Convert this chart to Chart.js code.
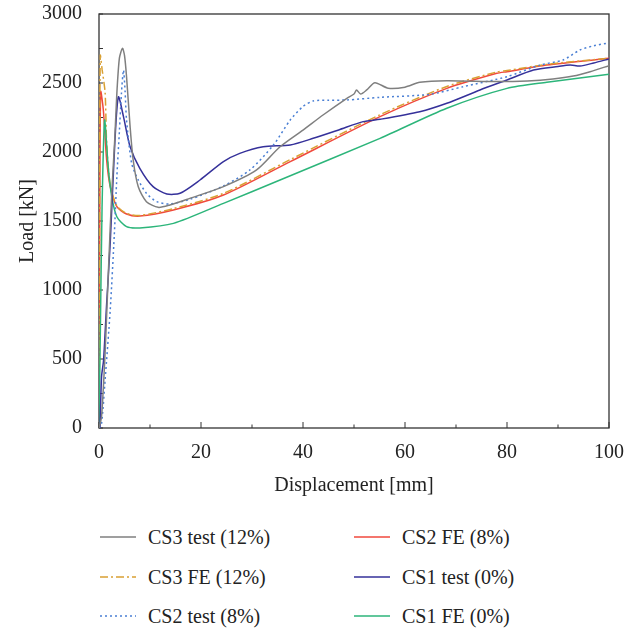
<!DOCTYPE html>
<html>
<head>
<meta charset="utf-8">
<script src="https://cdn.jsdelivr.net/npm/chart.js@4.4.0/dist/chart.umd.min.js"></script>
<style>
  body { margin: 0; background: #fff; }
  #wrap { position: relative; width: 636px; height: 629px; }
  #chartBox { position: absolute; left: 0; top: 0; width: 636px; height: 500px; }
  .lg { position: absolute; font-family: "Liberation Serif", "DejaVu Serif", serif; font-size: 20px; color: #222; white-space: nowrap; }
  .lg svg { position: absolute; left: 0; top: 0; }
  .lg span { position: absolute; left: 48px; top: -12px; line-height: 24px; }
</style>
</head>
<body>
<div id="wrap">
  <div id="chartBox"><canvas id="loadChart" width="636" height="500"></canvas></div>
  <div id="legend"></div>
</div>
<script>
// CS3 test (12%)
const cs3TestX = [0, 0.5, 1.2, 1.8, 2.5, 3.1, 3.5, 4.0, 4.6, 5.0, 5.4, 6.1, 6.7, 7.7, 9.3, 11.6, 13.9, 17.8, 24.4, 30.9, 35.5, 40, 44, 48.6, 50.0, 50.5, 51.3, 52.5, 54.1, 56.7, 60, 62.9, 68.2, 78, 84, 89, 93, 96.3, 100];
const cs3TestY = [0, 82, 550, 1096, 1700, 2100, 2425, 2680, 2751, 2700, 2546, 2183, 1942, 1748, 1640, 1599, 1616, 1664, 1749, 1870, 2038, 2159, 2270, 2389, 2420, 2449, 2420, 2450, 2502, 2462, 2470, 2505, 2517, 2510, 2515, 2529, 2550, 2582, 2626];
// CS3 FE (12%)
const cs3FeX = [0, 0.1, 0.25, 0.6, 1.2, 1.5, 2.2, 3.5, 5.4, 8, 14.6, 24.4, 37.5, 55.1, 68.2, 78, 80, 87.8, 100];
const cs3FeY = [0, 1500, 2700, 2600, 2430, 2065, 1760, 1610, 1555, 1540, 1590, 1700, 1945, 2270, 2475, 2580, 2590, 2635, 2680];
// CS2 test (8%)
const cs2TestX = [0, 0.5, 1.2, 2.2, 3.0, 3.5, 4.0, 4.4, 4.8, 5.1, 5.4, 6.4, 7.7, 9.3, 11.3, 13.9, 17.8, 24.4, 29.6, 34.2, 37.5, 40, 42, 45, 48.6, 55.1, 64.9, 71.4, 80, 86.5, 91, 94.3, 97, 100];
const cs2TestY = [0, 30, 350, 855, 1400, 1821, 2150, 2425, 2594, 2450, 2232, 1918, 1797, 1701, 1640, 1623, 1657, 1754, 1870, 2051, 2232, 2330, 2370, 2375, 2377, 2396, 2418, 2473, 2546, 2630, 2667, 2739, 2770, 2790];
// CS2 FE (8%)
const cs2FeX = [0, 0.15, 0.33, 0.85, 1.5, 2.2, 3.5, 5.4, 8, 14.6, 24.4, 37.5, 55.1, 68.2, 78, 80, 87.8, 100];
const cs2FeY = [0, 1500, 2437, 2304, 1942, 1749, 1604, 1551, 1536, 1580, 1688, 1930, 2256, 2461, 2570, 2582, 2630, 2679];
// CS1 test (0%)
const cs1TestX = [0.2, 0.5, 0.9, 1.5, 2.2, 3.1, 3.8, 4.8, 6.1, 8, 10.6, 13.3, 15.9, 19.8, 24.4, 27.6, 32.2, 37.5, 42, 47, 51.8, 55.1, 62.9, 68.2, 74.7, 80, 85.2, 90, 92.4, 94.3, 97, 100];
const cs1TestY = [0, 372, 493, 900, 1340, 2065, 2400, 2256, 2038, 1882, 1749, 1696, 1701, 1797, 1930, 1990, 2038, 2051, 2099, 2160, 2220, 2237, 2292, 2353, 2449, 2522, 2594, 2620, 2630, 2623, 2645, 2674];
// CS1 FE (0%)
const cs1FeX = [0, 0.3, 0.6, 1.1, 1.8, 2.5, 3.5, 5.4, 8, 14.6, 24.4, 35.5, 55.1, 68.2, 80, 87.8, 100];
const cs1FeY = [0, 800, 1600, 2230, 1893, 1676, 1531, 1459, 1450, 1483, 1628, 1797, 2099, 2317, 2461, 2505, 2563];

const xTicks = [0, 20, 40, 60, 80, 100];
const yTicks = [0, 500, 1000, 1500, 2000, 2500, 3000];

const toPoints = (xs, ys) => xs.map((x, i) => ({ x: x, y: ys[i] }));

const series = [
  { label: 'CS3 test (12%)', xs: cs3TestX, ys: cs3TestY, color: '#7f7f7f', dash: [] },
  { label: 'CS3 FE (12%)', xs: cs3FeX, ys: cs3FeY, color: '#d9a033', dash: [8, 3, 2, 3] },
  { label: 'CS2 test (8%)', xs: cs2TestX, ys: cs2TestY, color: '#4a7fd4', dash: [2, 3] },
  { label: 'CS2 FE (8%)', xs: cs2FeX, ys: cs2FeY, color: '#f0493c', dash: [] },
  { label: 'CS1 test (0%)', xs: cs1TestX, ys: cs1TestY, color: '#35319a', dash: [] },
  { label: 'CS1 FE (0%)', xs: cs1FeX, ys: cs1FeY, color: '#2cb57a', dash: [] }
];

// draw order: put FE/test lines so red sits over orange like the picture
const drawOrder = [0, 2, 4, 5, 1, 3];

const frameAndTicks = {
  id: 'frameAndTicks',
  beforeDatasetsDraw(chart) {
    const { ctx, chartArea: a, scales } = chart;
    ctx.save();
    ctx.strokeStyle = '#333';
    ctx.lineWidth = 1.3;
    ctx.strokeRect(a.left, a.top, a.right - a.left, a.bottom - a.top);
    ctx.lineWidth = 1;
    ctx.beginPath();
    for (let v = 0; v <= 100; v += 10) {
      const px = scales.x.getPixelForValue(v);
      const len = v % 20 === 0 ? 6 : 3.5;
      ctx.moveTo(px, a.bottom);
      ctx.lineTo(px, a.bottom - len);
    }
    for (let v = 0; v <= 3000; v += 250) {
      const py = scales.y.getPixelForValue(v);
      ctx.moveTo(a.left, py);
      ctx.lineTo(a.left + 4, py);
    }
    ctx.stroke();
    ctx.restore();
  }
};

const tickFont = { family: '"Liberation Serif", "DejaVu Serif", serif', size: 20 };

new Chart(document.getElementById('loadChart'), {
  type: 'line',
  data: {
    datasets: drawOrder.map(i => {
      const s = series[i];
      return {
        label: s.label,
        data: toPoints(s.xs, s.ys),
        borderColor: s.color,
        borderDash: s.dash,
        borderWidth: 1.5,
        pointRadius: 0,
        tension: 0.25,
        fill: false
      };
    })
  },
  options: {
    responsive: false,
    animation: false,
    layout: { padding: { top: 14, right: 27, left: 0, bottom: 0 } },
    plugins: {
      legend: { display: false },
      tooltip: { enabled: false }
    },
    scales: {
      x: {
        type: 'linear',
        min: 0,
        max: 100,
        afterBuildTicks: s => { s.ticks = xTicks.map(v => ({ value: v })); },
        afterFit: s => { s.height = 72; s.paddingLeft = 0; s.paddingRight = 0; },
        grid: { display: false },
        border: { display: false },
        ticks: { font: tickFont, color: '#222', padding: 5, maxRotation: 0, callback: v => String(v) },
        title: { display: true, text: 'Displacement [mm]', font: tickFont, color: '#222', padding: { top: 4, bottom: 2 } }
      },
      y: {
        type: 'linear',
        min: 0,
        max: 3000,
        afterBuildTicks: s => { s.ticks = yTicks.map(v => ({ value: v })); },
        afterFit: s => { s.width = 99; s.paddingTop = 0; s.paddingBottom = 0; },
        grid: { display: false },
        border: { display: false },
        ticks: { font: tickFont, color: '#222', padding: 9, callback: v => String(v) },
        title: { display: true, text: 'Load [kN]', font: tickFont, color: '#222', padding: { top: 16, bottom: 4 } }
      }
    }
  },
  plugins: [frameAndTicks]
});

// legend: two columns of three, like the picture
const legendBox = document.getElementById('legend');
const legendPos = [
  [100, 537], [100, 577], [100, 616],
  [354, 537], [354, 577], [354, 616]
];
series.forEach((s, i) => {
  const d = document.createElement('div');
  d.className = 'lg';
  d.style.left = legendPos[i][0] + 'px';
  d.style.top = legendPos[i][1] + 'px';
  const dash = s.dash.length ? ` stroke-dasharray="${s.dash.join(' ')}"` : '';
  d.innerHTML = `<svg width="36" height="4" style="top:-2px"><line x1="0" y1="2" x2="36" y2="2" stroke="${s.color}" stroke-width="1.5"${dash}/></svg><span>${s.label}</span>`;
  legendBox.appendChild(d);
});
</script>
</body>
</html>
